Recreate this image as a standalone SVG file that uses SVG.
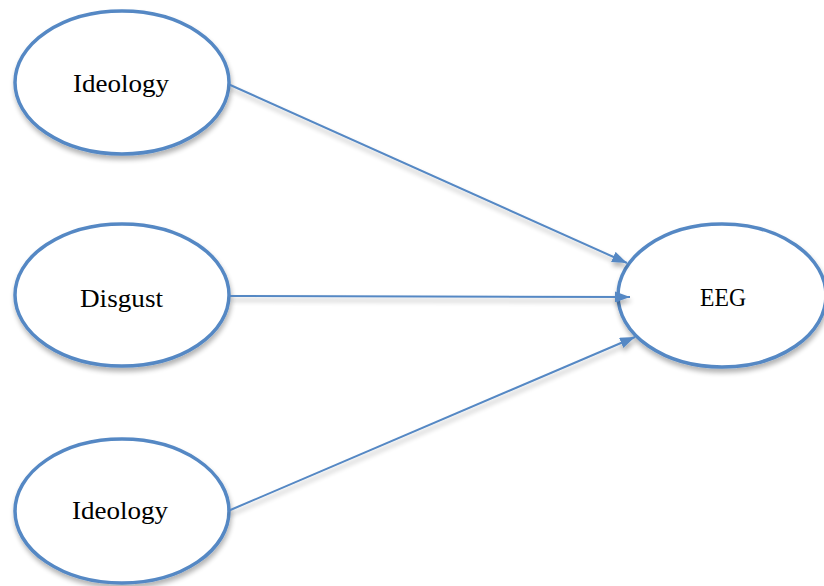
<svg xmlns="http://www.w3.org/2000/svg" width="824" height="586" viewBox="0 0 824 586">
<defs>
<filter id="sh" x="-20%" y="-20%" width="140%" height="150%">
<feGaussianBlur in="SourceAlpha" stdDeviation="2.5"/>
<feOffset dx="1" dy="4" result="b"/>
<feComponentTransfer><feFuncA type="linear" slope="0.3"/></feComponentTransfer>
<feMerge><feMergeNode/><feMergeNode in="SourceGraphic"/></feMerge>
</filter>
<marker id="ah" viewBox="0 0 15 11" refX="15" refY="5.5" markerWidth="7.5" markerHeight="5.5" markerUnits="strokeWidth" orient="auto">
<path d="M0,0 L15,5.5 L0,11 Z" fill="#5588C4"/>
</marker>
<style>
.node ellipse{fill:#fff;stroke:#5588C4;stroke-width:3.5}
.node text{font-family:"Liberation Serif","DejaVu Serif",serif;font-size:26px;fill:#000;text-anchor:middle}
.edge{stroke:#5588C4;stroke-width:2;fill:none;marker-end:url(#ah)}
</style>
</defs>
<rect width="824" height="586" fill="#fff"/>
<g id="ideology1" class="node">
<ellipse cx="122" cy="82.5" rx="107" ry="71.5" filter="url(#sh)"/>
<text x="121" y="92" textLength="96" lengthAdjust="spacingAndGlyphs">Ideology</text>
</g>
<g id="disgust" class="node">
<ellipse cx="122" cy="295" rx="107" ry="71" filter="url(#sh)"/>
<text x="121.5" y="307" textLength="83" lengthAdjust="spacingAndGlyphs">Disgust</text>
</g>
<g id="ideology2" class="node">
<ellipse cx="122" cy="511" rx="107" ry="72" filter="url(#sh)"/>
<text x="120" y="519" textLength="96" lengthAdjust="spacingAndGlyphs">Ideology</text>
</g>
<g id="eeg" class="node">
<ellipse cx="722" cy="295.5" rx="104" ry="71.5" filter="url(#sh)"/>
<text x="723" y="306" textLength="46" lengthAdjust="spacingAndGlyphs">EEG</text>
</g>
<g id="connectors" filter="url(#sh)">
<line class="edge" x1="228" y1="84" x2="627" y2="263"/>
<line class="edge" x1="229" y1="296" x2="630" y2="297"/>
<line class="edge" x1="228" y1="511" x2="635" y2="337"/>
</g>
</svg>
